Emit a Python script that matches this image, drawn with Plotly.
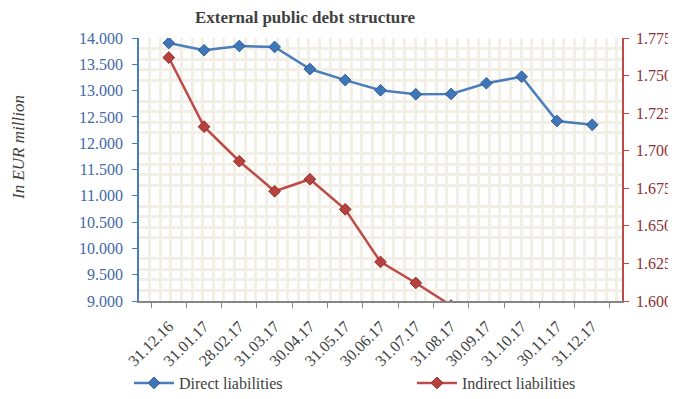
import plotly.graph_objects as go

# datos
fechas = ["31.12.16", "31.01.17", "28.02.17", "31.03.17", "30.04.17", "31.05.17", "30.06.17",
          "31.07.17", "31.08.17", "30.09.17", "31.10.17", "30.11.17", "31.12.17"]
directas = [13905, 13767, 13848, 13830, 13410, 13200, 13006, 12930, 12935, 13140, 13264, 12422, 12350]
indirectas = [1762, 1716, 1693, 1673, 1681, 1661, 1626, 1612, 1597, 1590, 1585, 1578, 1572]

FUENTE = "Liberation Serif, Times New Roman, serif"
AZUL = "#4A7EBB"
ROJO = "#BE4B48"
GRID = "#F2EFE6"
DX, DY = 8, 8  # la pagina se dibuja desplazada por el margen del body

fig = go.Figure()

# traza vacia solo para que se dibuje la cuadricula vertical (eje x2)
fig.add_trace(go.Scatter(x=[0, 45.5], y=[None, None], xaxis="x2", showlegend=False,
                         hoverinfo="skip", mode="lines"))

fig.add_trace(go.Scatter(
    x=fechas, y=directas, name="Direct liabilities", legend="legend",
    mode="lines+markers",
    line=dict(color=AZUL, width=2.5),
    marker=dict(symbol="diamond", size=9, color="#3F76B8", line=dict(color="#2F5E99", width=1)),
))
fig.add_trace(go.Scatter(
    x=fechas, y=indirectas, name="Indirect liabilities", yaxis="y2", legend="legend2",
    mode="lines+markers",
    line=dict(color=ROJO, width=2.5),
    marker=dict(symbol="diamond", size=9, color="#B7413E", line=dict(color="#8E2F2C", width=1)),
))

leyenda = dict(
    orientation="h", xref="container", xanchor="left",
    y=(399 - 383 + DY) / 399, yref="container", yanchor="middle",
    font=dict(family=FUENTE, size=16, color="#404040"),
    itemwidth=40, bgcolor="rgba(0,0,0,0)",
)

fig.update_layout(
    width=676, height=399,
    margin=dict(l=139 - DX, r=54 + DX, t=38 - DY, b=98 + DY),
    paper_bgcolor="white",
    plot_bgcolor="white",
    separators=",.",
    font=dict(family=FUENTE, size=13, color="#404040"),
    title=dict(
        text="<b>External public debt structure</b>",
        x=(305 - DX) / 676, xanchor="center", xref="container",
        y=1 - (17 - DY) / 399, yanchor="middle", yref="container",
        font=dict(family=FUENTE, size=17, color="#404040"),
    ),
    showlegend=True,
    legend=dict(leyenda, x=(129 - DX) / 676),
    legend2=dict(leyenda, x=(412 - DX) / 676),
    xaxis=dict(
        type="category", tickson="boundaries", ticks="outside", ticklen=5,
        tickcolor="#868686", showline=True, linecolor="#868686", linewidth=1.5,
        showgrid=False, tickangle=-45, automargin=False, ticklabelstandoff=8,
        tickfont=dict(family=FUENTE, size=16, color="#404040"),
    ),
    xaxis2=dict(
        overlaying="x", anchor="y", range=[0, 45.5], dtick=1, automargin=False,
        showgrid=True, gridcolor=GRID, gridwidth=3,
        showticklabels=False, ticks="", showline=False, zeroline=False,
    ),
    yaxis=dict(
        range=[9000, 14000], dtick=500, tickformat=",.0f", ticks="outside", ticklen=5,
        tickcolor=AZUL, showline=True, linecolor=AZUL, linewidth=1.5,
        showgrid=False, zeroline=False, automargin=False, ticklabelstandoff=6,
        minor=dict(dtick=200, tick0=9000, showgrid=True, gridcolor=GRID, gridwidth=3, ticks=""),
        tickfont=dict(family=FUENTE, size=16, color="#3F68A6"),
    ),
    yaxis2=dict(
        overlaying="y", side="right", range=[1600, 1775], dtick=25, tickformat=",.0f",
        ticks="outside", ticklen=5, tickcolor=ROJO, showline=True, linecolor=ROJO,
        linewidth=1.5, showgrid=False, zeroline=False, automargin=False, ticklabelstandoff=4,
        tickfont=dict(family=FUENTE, size=16, color="#8C3230"),
    ),
    annotations=[dict(
        text="<i>In EUR million</i>", textangle=-90, showarrow=False,
        xref="paper", yref="paper", x=(18 - 139) / 483, y=(301 - 148) / 263,
        xanchor="center", yanchor="middle",
        font=dict(family=FUENTE, size=17, color="#404040"),
    )],
)

fig.write_html("out.html")
